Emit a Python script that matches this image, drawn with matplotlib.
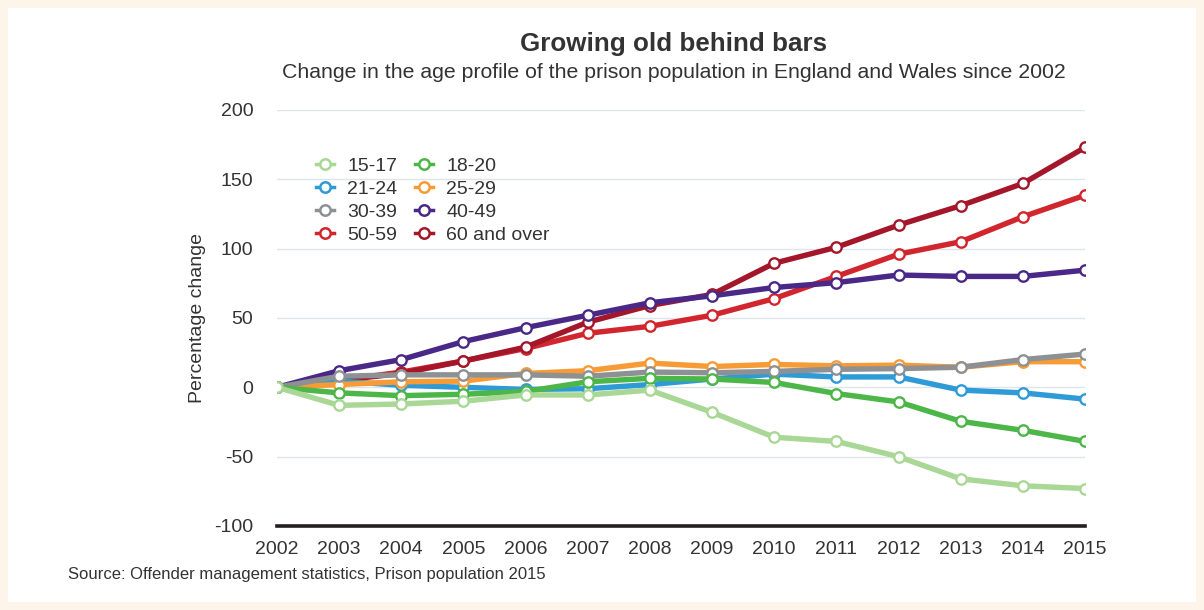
import matplotlib
matplotlib.use("Agg")

import matplotlib.pyplot as plt
from matplotlib.patches import Rectangle
from matplotlib.lines import Line2D

plt.rcParams['font.family'] = ['Liberation Sans', 'DejaVu Sans']
plt.rcParams['axes.unicode_minus'] = False

# ---------------------------------------------------------
# DATA (percentage change since 2002)
# ---------------------------------------------------------
years = list(range(2002, 2016))

age_15_17 = [0, -13, -12, -10, -5.5, -5.5, -2, -18, -36, -39, -50, -66, -71, -73]
age_18_20 = [0, -4, -6, -5, -3, 4, 6.5, 6, 3.5, -4.5, -10.5, -24.5, -31, -39]
age_21_24 = [0, 4.5, 1.5, 0, -1.5, -1, 2, 6, 9.5, 7.5, 7.5, -2, -4, -8.5]
age_25_29 = [0, 2, 4, 4.5, 10, 12, 17.5, 15, 16.5, 15.5, 16, 14.5, 18.5, 18.5]
age_30_39 = [0, 8, 9, 9, 9, 8, 11, 10.5, 11.5, 13, 13.5, 14.5, 20, 24]
age_40_49 = [0, 12, 20, 33, 43, 52, 61, 66, 72, 75.5, 81, 80, 80, 84.5]
age_50_59 = [0, 5, 11, 19, 28, 39, 44, 52, 64, 80, 96, 105, 123, 138.5]
age_60_over = [0, 5, 10, 19, 29, 47, 59, 67, 89.5, 101, 117, 131, 147, 173]

labels = ["15-17", "18-20", "21-24", "25-29", "30-39", "40-49", "50-59", "60 and over"]
series = [age_15_17, age_18_20, age_21_24, age_25_29,
          age_30_39, age_40_49, age_50_59, age_60_over]
colors = ["#a9d795", "#4cb648", "#2e9bd6", "#f79b36",
          "#8e9194", "#4a2887", "#d2262f", "#a4172b"]

# drawing order (first = bottom)
draw_order = [6, 7, 5, 2, 3, 4, 1, 0]

yticks = [-100, -50, 0, 50, 100, 150, 200]

# ---------------------------------------------------------
# FIGURE
# ---------------------------------------------------------
fig = plt.figure(figsize=(12.04, 6.10), dpi=100)
fig.patch.set_facecolor("#fdf5e9")
# white panel inside the cream border
fig.patches.append(Rectangle((8 / 1204, 8 / 610), 1 - 16 / 1204, 1 - 16 / 610,
                             transform=fig.transFigure, facecolor="white",
                             edgecolor="none", zorder=-5))

ax = fig.add_axes([277 / 1204, 1 - 526 / 610, (1085 - 277) / 1204, (526 - 110) / 610])
ax.set_zorder(2)
ax.set_facecolor("white")

for i in draw_order:
    ax.plot(years, series[i], color=colors[i], lw=3.9,
            marker="o", ms=7.5, mfc="white", mec=colors[i], mew=1.7,
            solid_capstyle="round", zorder=3 + draw_order.index(i))

ax.set_xlim(2002, 2015)
ax.set_ylim(-100, 200)
ax.set_xticks(years)
ax.set_yticks(yticks)
ax.tick_params(axis="both", length=0, labelsize=14, colors="#333333")
ax.tick_params(axis="x", pad=11)
ax.tick_params(axis="y", pad=17)

# gridlines
for v in yticks[1:]:
    ax.axhline(v, color="#dde5ea", lw=1.0, zorder=1)
ax.axhline(-100, color="#231f20", lw=2.6, zorder=2, clip_on=False)

for s in ax.spines.values():
    s.set_visible(False)

ax.set_ylabel("Percentage change", fontsize=14, color="#333333", labelpad=6)

# legend: row-wise order in 2 columns
leg_order = [0, 2, 4, 6, 1, 3, 5, 7]
leg_handles = [Line2D([], [], color=colors[i], lw=2.5, marker="o", ms=7.5,
                      mfc="white", mec=colors[i], mew=1.8) for i in leg_order]
ax.legend(leg_handles, [labels[i] for i in leg_order], ncol=2,
          loc="upper left", bbox_to_anchor=(0.027, 0.928), frameon=False,
          fontsize=14, handlelength=0.9, handletextpad=0.7,
          columnspacing=0.9, labelspacing=0.28, labelcolor="#333333")

# titles and source
fig.text(674 / 1204, 1 - 44 / 610, "Growing old behind bars", ha="center",
         va="center", fontsize=18.7, fontweight="bold", color="#333333")
fig.text(674 / 1204, 1 - 73 / 610,
         "Change in the age profile of the prison population in England and Wales since 2002",
         ha="center", va="center", fontsize=15.3, color="#333333")
fig.text(68 / 1204, 1 - 574 / 610,
         "Source: Offender management statistics, Prison population 2015",
         ha="left", va="center", fontsize=12, color="#333333")

fig.savefig("out.png", dpi=100, facecolor=fig.get_facecolor())
